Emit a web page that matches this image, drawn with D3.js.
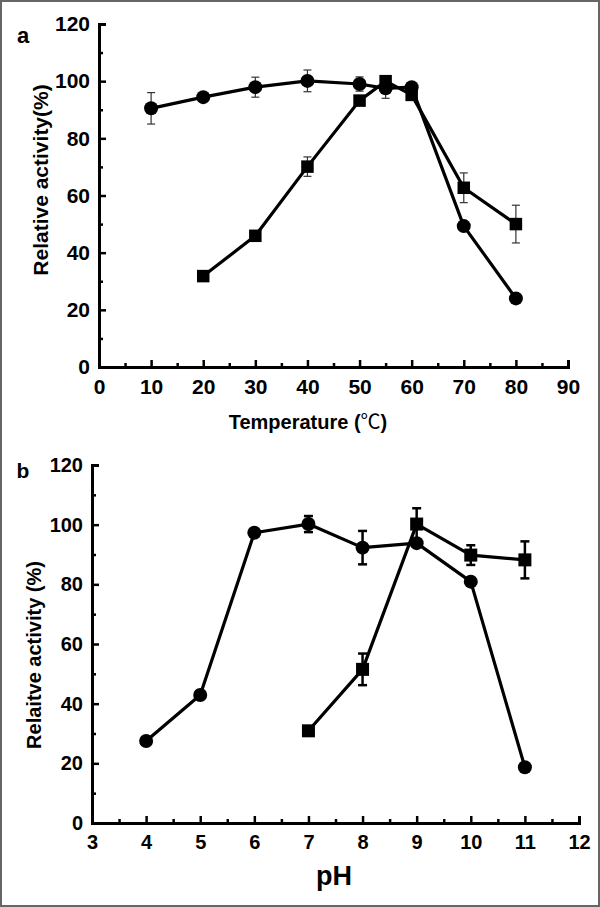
<!DOCTYPE html>
<html><head><meta charset="utf-8">
<script src="https://cdn.jsdelivr.net/npm/d3@7"></script>
<style>
html,body{margin:0;padding:0;background:#fff;}
svg text{font-family:"Liberation Sans",Arial,"Noto Sans CJK SC",sans-serif;font-weight:bold;fill:#000;}
</style></head>
<body>
<svg id="c" width="600" height="907"></svg>
<script>
// Panel a: temperature
const tempTicks = [0,10,20,30,40,50,60,70,80,90];
const tempCircleX = [10,20,30,40,50,55,60,70,80];
const tempCircleY = [90.5,94.4,97.9,100.1,99.0,97.5,97.9,49.3,24.0];
const tempCircleErr = [5.5,0,3.5,3.8,2.5,3.5,0,0,0];
const tempSquareX = [20,30,40,50,55,60,70,80];
const tempSquareY = [31.8,45.9,70.1,93.2,100,95.2,62.7,50.0];
const tempSquareErr = [0,0,3.4,0,0,0,5.2,6.6];
// Panel b: pH
const phTicks = [3,4,5,6,7,8,9,10,11,12];
const phCircleX = [4,5,6,7,8,9,10,11];
const phCircleY = [27.5,42.9,97.3,100.2,92.3,93.8,80.9,18.7];
const phCircleErr = [0,0,0,2.7,5.6,0,0,0];
const phSquareX = [7,8,9,10,11];
const phSquareY = [30.9,51.5,100.2,89.8,88.2];
const phSquareErr = [1.2,5.3,5.3,3.3,6.2];
const yTicks = [0,20,40,60,80,100,120];

const svg = d3.select("#c");
svg.append("rect").attr("x",1).attr("y",1).attr("width",598).attr("height",905)
  .attr("fill","#fff").attr("stroke","#666").attr("stroke-width",2);

function panel(o){
  const x = d3.scaleLinear().domain(o.xdom).range(o.xr);
  const y = d3.scaleLinear().domain([0,120]).range(o.yr);
  const g = svg.append("g");
  const xMinor = d3.range(o.xdom[0]+o.xstep/2, o.xdom[1], o.xstep);
  const yMinor = d3.range(10,120,20);
  g.append("g").attr("transform",`translate(0,${o.yr[0]})`)
    .call(d3.axisBottom(x).tickValues(o.xticks).tickSize(-7).tickPadding(12).tickFormat(d3.format("d")));
  g.append("g").attr("transform",`translate(0,${o.yr[0]})`)
    .call(d3.axisBottom(x).tickValues(xMinor).tickSize(-4).tickFormat(""))
    .select(".domain").remove();
  g.append("g").attr("transform",`translate(${o.xr[0]},0)`)
    .call(d3.axisLeft(y).tickValues(yTicks).tickSize(-7).tickPadding(9));
  g.append("g").attr("transform",`translate(${o.xr[0]},0)`)
    .call(d3.axisLeft(y).tickValues(yMinor).tickSize(-4).tickFormat(""))
    .select(".domain").remove();
  g.selectAll(".domain").attr("stroke","#000").attr("stroke-width",3);
  g.selectAll(".tick line").attr("stroke","#000").attr("stroke-width",2.5);
  g.selectAll(".tick text").style("font-size",o.tickFont+"px").style("font-weight","bold")
    .style("font-family",'"Liberation Sans",Arial,sans-serif').attr("fill","#000");
  const line = d3.line().x(d=>x(d[0])).y(d=>y(d[1]));
  const sets = [
    {xs:o.cx, ys:o.cy, es:o.ce, shape:"circle"},
    {xs:o.sx, ys:o.sy, es:o.se, shape:"square"}
  ];
  sets.forEach(s=>{
    const pts = s.xs.map((v,i)=>[v,s.ys[i],s.es[i]]);
    g.append("path").datum(pts).attr("d",line).attr("fill","none")
      .attr("stroke","#000").attr("stroke-width",3.2).attr("stroke-linejoin","round");
  });
  sets.forEach(s=>{
    const pts = s.xs.map((v,i)=>[v,s.ys[i],s.es[i]]).filter(p=>p[2]>0);
    const eg = g.append("g").attr("stroke",o.errColor).attr("stroke-width",o.errW);
    pts.forEach(p=>{
      const cx = x(p[0]);
      eg.append("line").attr("x1",cx).attr("x2",cx).attr("y1",y(p[1]+p[2])).attr("y2",y(p[1]-p[2]));
      [p[1]+p[2],p[1]-p[2]].forEach(v=>{
        eg.append("line").attr("x1",cx-o.cap).attr("x2",cx+o.cap).attr("y1",y(v)).attr("y2",y(v));
      });
    });
  });
  sets.forEach(s=>{
    s.xs.forEach((v,i)=>{
      const cx = x(v), cy = y(s.ys[i]);
      if(s.shape==="circle") g.append("circle").attr("cx",cx).attr("cy",cy).attr("r",o.r).attr("fill","#000");
      else g.append("rect").attr("x",cx-o.sq/2).attr("y",cy-o.sq/2).attr("width",o.sq).attr("height",o.sq).attr("fill","#000");
    });
  });
}

panel({xdom:[0,90], xr:[99,568], yr:[367,24], xstep:10, xticks:tempTicks, tickFont:21,
  cx:tempCircleX, cy:tempCircleY, ce:tempCircleErr, sx:tempSquareX, sy:tempSquareY, se:tempSquareErr,
  errColor:"#333", errW:1.2, cap:4, r:7, sq:12.5});
panel({xdom:[3,12], xr:[92,579], yr:[823,465], xstep:1, xticks:phTicks, tickFont:20,
  cx:phCircleX, cy:phCircleY, ce:phCircleErr, sx:phSquareX, sy:phSquareY, se:phSquareErr,
  errColor:"#000", errW:2.5, cap:4.5, r:7, sq:13});

svg.append("text").attr("x",23).attr("y",43).attr("text-anchor","middle").style("font-size","22px").text("a");
svg.append("text").attr("x",23).attr("y",478).attr("text-anchor","middle").style("font-size","21px").text("b");
const tl = svg.append("text").attr("x",308).attr("y",429).attr("text-anchor","middle").style("font-size","20px");
tl.append("tspan").text("Temperature (");
tl.append("tspan").style("font-family",'"Noto Sans CJK SC",sans-serif').style("font-weight","normal").text("℃");
tl.append("tspan").text(")");
svg.append("text").attr("transform","translate(48,180) rotate(-90)").attr("text-anchor","middle")
  .style("font-size","21px").text("Relative activity(%)");
svg.append("text").attr("transform","translate(41,655) rotate(-90)").attr("text-anchor","middle")
  .style("font-size","20px").text("Relaitve activity (%)");
svg.append("text").attr("x",334).attr("y",885).attr("text-anchor","middle").style("font-size","27px").text("pH");
</script>
</body></html>
